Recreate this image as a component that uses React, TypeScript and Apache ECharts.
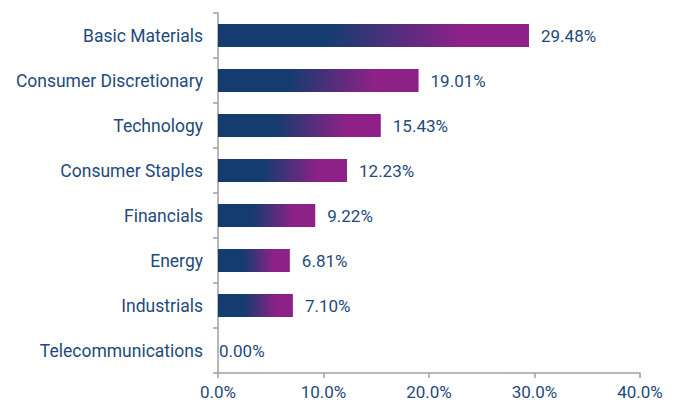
import React, { useEffect, useRef } from "react";
import * as echarts from "echarts";

const categories = [
  "Basic Materials",
  "Consumer Discretionary",
  "Technology",
  "Consumer Staples",
  "Financials",
  "Energy",
  "Industrials",
  "Telecommunications",
];
const values = [29.48, 19.01, 15.43, 12.23, 9.22, 6.81, 7.1, 0.0];
const xTicks = [0, 10, 20, 30, 40];

const TEXT = "#1e4a7c";

export default function App() {
  const ref = useRef<HTMLDivElement>(null);
  useEffect(() => {
    if (!ref.current) return;
    const chart = echarts.init(ref.current, null, { renderer: "svg" });
    chart.setOption({
      animation: false,
      grid: { left: 218, right: 39, top: 13, bottom: 34 },
      xAxis: {
        type: "value",
        min: xTicks[0],
        max: xTicks[xTicks.length - 1],
        interval: 10,
        splitLine: { show: false },
        axisLine: { show: true, lineStyle: { color: "#a0a0a0", width: 1.5 } },
        axisTick: { show: true, length: 5, lineStyle: { color: "#a0a0a0", width: 1.5 } },
        axisLabel: {
          color: TEXT,
          fontFamily: "Roboto",
          fontSize: 17,
          margin: 10,
          formatter: (v: number) => v.toFixed(1) + "%",
        },
      },
      yAxis: {
        type: "category",
        data: categories,
        inverse: true,
        axisLine: { show: true, lineStyle: { color: "#a0a0a0", width: 1.5 } },
        axisTick: { show: true, length: 5, alignWithLabel: false, lineStyle: { color: "#a0a0a0", width: 1.5 } },
        axisLabel: { color: TEXT, fontFamily: "Roboto", fontSize: 17.5, margin: 15 },
      },
      series: [
        {
          type: "bar",
          data: values.map((v) =>
            v === 0 ? { value: v, label: { distance: 1 } } : { value: v }
          ),
          barWidth: 23,
          itemStyle: {
            color: new echarts.graphic.LinearGradient(0, 0, 1, 0, [
              { offset: 0, color: "#143c6e" },
              { offset: 0.35, color: "#143c6e" },
              { offset: 0.78, color: "#8d2188" },
              { offset: 1, color: "#8d2188" },
            ]),
          },
          label: {
            show: true,
            position: "right",
            distance: 12,
            color: TEXT,
            fontFamily: "Roboto",
            fontSize: 17,
            formatter: (p: any) => Number(p.value).toFixed(2) + "%",
          },
        },
      ],
    });
    return () => chart.dispose();
  }, []);
  return <div ref={ref} style={{ width: 679, height: 407, position: "absolute", left: 0, top: 0 }} />;
}
